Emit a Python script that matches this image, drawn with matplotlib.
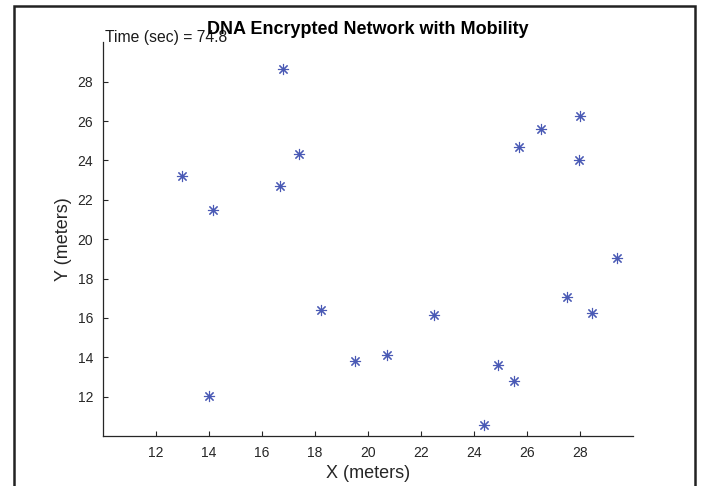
import matplotlib
matplotlib.use("Agg")
import matplotlib.pyplot as plt
from matplotlib.patches import Rectangle

# Node positions at t = 74.8 s
x_pos = [16.79, 17.41, 12.97, 16.66, 14.14, 28.00, 26.53, 25.71, 27.97, 13.99,
         18.23, 19.49, 29.39, 27.51, 28.47, 22.48, 20.72, 24.92, 25.51, 24.37]
y_pos = [28.66, 24.34, 23.23, 22.69, 21.47, 26.27, 25.62, 24.69, 24.00, 12.02,
         16.40, 13.82, 19.02, 17.04, 16.27, 16.16, 14.11, 13.60, 12.78, 10.56]

x_ticks = [12, 14, 16, 18, 20, 22, 24, 26, 28]
y_ticks = [12, 14, 16, 18, 20, 22, 24, 26, 28]
sim_time = 74.8

plt.rcParams['font.family'] = ['Liberation Sans', 'DejaVu Sans']

fig = plt.figure(figsize=(7.01, 4.86), dpi=100)
ax = fig.add_axes([0.147, 0.1029, 0.756, 0.810])

ax.plot(x_pos, y_pos, linestyle='none', marker=(8, 2, 0), markersize=8,
        markeredgewidth=0.8, color='#4a5ab5')

ax.set_xlim(10, 30)
ax.set_ylim(10, 30)
ax.set_xticks(x_ticks)
ax.set_yticks(y_ticks)

for side in ['top', 'right']:
    ax.spines[side].set_visible(False)
for side in ['left', 'bottom']:
    ax.spines[side].set_color('#262626')
    ax.spines[side].set_linewidth(0.9)

ax.tick_params(direction='in', length=3.5, width=0.8, color='#262626',
               labelsize=10, labelcolor='#262626', pad=7)

ax.set_title('DNA Encrypted Network with Mobility', fontsize=13,
             fontweight='bold', pad=6)
ax.set_xlabel('X (meters)', fontsize=13, labelpad=4, color='#262626')
ax.set_ylabel('Y (meters)', fontsize=13, labelpad=4, color='#262626')
ax.text(0.004, 1.0, f'Time (sec) = {sim_time}', transform=ax.transAxes,
        fontsize=11.3, va='baseline', ha='left', color='#1a1a1a')

# outer frame around the figure (bottom edge is cut off)
fig.add_artist(Rectangle((14 / 701, -0.1), (695 - 14) / 701, 1.1 - 6.3 / 486,
                         transform=fig.transFigure, fill=False,
                         edgecolor='#222222', linewidth=1.8))

fig.savefig('out.png', dpi=100)
